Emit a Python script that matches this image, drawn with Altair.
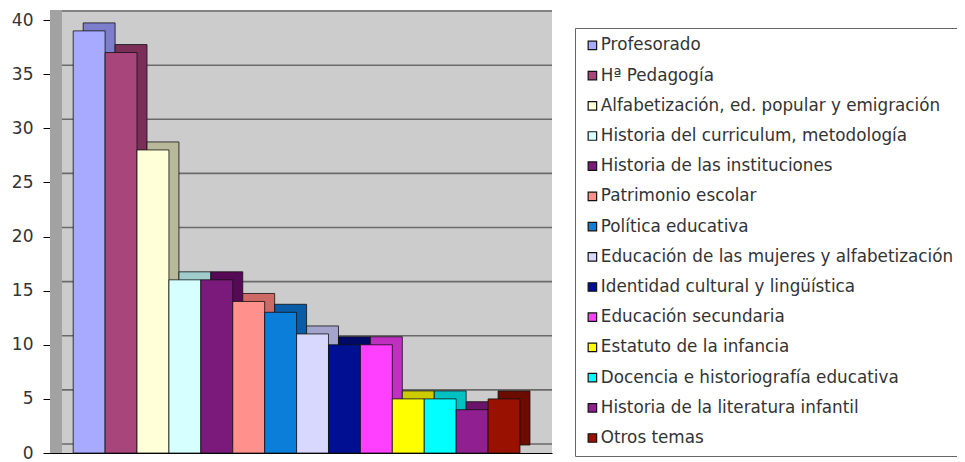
import altair as alt
import pandas as pd

temas = [
    "Profesorado",
    "Hª Pedagogía",
    "Alfabetización, ed. popular y emigración",
    "Historia del curriculum, metodología",
    "Historia de las instituciones",
    "Patrimonio escolar",
    "Política educativa",
    "Educación de las mujeres y alfabetización",
    "Identidad cultural y lingüística",
    "Educación secundaria",
    "Estatuto de la infancia",
    "Docencia e historiografía educativa",
    "Historia de la literatura infantil",
    "Otros temas",
]
valores = [39, 37, 28, 16, 16, 14, 13, 11, 10, 10, 5, 5, 4, 5]
colores = ["#A8AAFF", "#A8457A", "#FFFFD8", "#D6FFFF", "#7A1A7A", "#FF908C",
           "#0A7ED8", "#D8D8FF", "#001090", "#FF40FF", "#FFFF00", "#00FFFF",
           "#902090", "#991100"]
colores_lado = ["#7C7ECC", "#7A2E58", "#B8B89A", "#A0CCCC", "#560A56", "#CC6A66",
                "#0A5CA6", "#A4A4CC", "#000A66", "#C030C0", "#CCCC00", "#00C0C0",
                "#681468", "#6A0C00"]
marcas = [0, 5, 10, 15, 20, 25, 30, 35, 40]

df = pd.DataFrame({"tema": temas, "valor": valores, "lado": colores_lado})
df_grid = pd.DataFrame({"valor": marcas})

font = "DejaVu Sans"

yscale = alt.Scale(domain=[0, 40.93], nice=False)
yaxis = alt.Axis(values=marcas, title=None, grid=False,
                 domainColor="#000", tickColor="#000", tickSize=7,
                 labelFontSize=17, labelColor="#333", labelFont=font,
                 labelPadding=10)

x = alt.X("tema:N", sort=temas,
          scale=alt.Scale(paddingInner=0, paddingOuter=0.865, align=0.42),
          axis=alt.Axis(labels=False, ticks=False, title=None, domainColor="#000",
                        domainWidth=1))
y = alt.Y("valor:Q", scale=yscale, axis=yaxis)

pared = alt.Chart(df_grid).mark_rect(color="#A2A2A2").encode(
    x=alt.value(0), x2=alt.value(12), y=alt.value(0), y2=alt.value(443)
)

grid = alt.Chart(df_grid).mark_rule(yOffset=-9, color="#6A6A6A",
                                    strokeWidth=1.6).encode(
    y=y, x=alt.value(12), x2=alt.value(502)
)

lado = alt.Chart(df).mark_bar(xOffset=10, yOffset=-8, y2Offset=-8,
                              stroke="#111", strokeWidth=0.8).encode(
    x=x, y=y, fill=alt.Fill("lado:N", scale=None, legend=None)
)

frente = alt.Chart(df).mark_bar(stroke="#111", strokeWidth=0.8).encode(
    x=x, y=y,
    color=alt.Color("tema:N", sort=temas,
                    scale=alt.Scale(domain=temas, range=colores),
                    legend=alt.Legend(
                        title=None, orient="none", legendX=525, legendY=18,
                        symbolType="square", symbolSize=72,
                        symbolStrokeColor="#111", symbolStrokeWidth=1.2,
                        labelFontSize=16.8, labelFont=font, labelColor="#333",
                        labelLimit=420, rowPadding=12.2, symbolOffset=0,
                        labelOffset=0, strokeColor="#666", padding=9,
                        fillColor="white"))
)

chart = alt.layer(pared, grid, lado, frente).properties(
    width=502, height=443,
    autosize=alt.AutoSizeParams(type="none"),
    padding={"left": 42, "top": 2, "right": 405, "bottom": 8},
).configure_view(fill="#CCCCCC", stroke=None)

chart.save("out.html", embed_options={"renderer": "svg", "actions": False})
